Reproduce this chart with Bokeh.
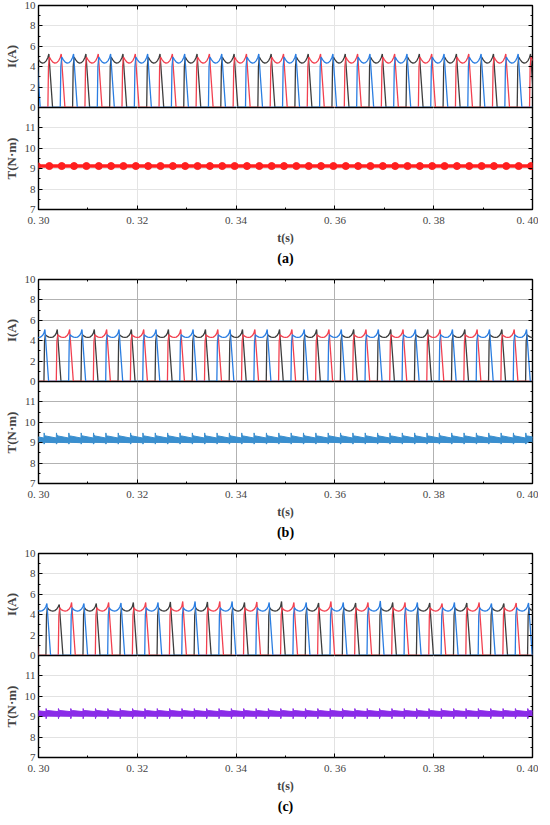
import numpy as np
from bokeh.plotting import figure
from bokeh.layouts import column
from bokeh.models import Range1d, LinearAxis, FixedTicker, Title
from bokeh.embed import file_html
from bokeh.resources import INLINE

# ---------------- data ----------------
X_TICKS = [0.30, 0.32, 0.34, 0.36, 0.38, 0.40]
X_TICK_LABELS = ["0. 30", "0. 32", "0. 34", "0. 36", "0. 38", "0. 40"]
X_MINOR = [0.31, 0.33, 0.35, 0.37, 0.39]
X_GRID = [0.32, 0.34, 0.36, 0.38]
I_TICKS = [0, 2, 4, 6, 8, 10]
I_MINOR = [1, 3, 5, 7, 9]
I_GRID = [2, 4, 6, 8]
T_TICKS = [7, 8, 9, 10, 11]
T_MINOR = [7.5, 8.5, 9.5, 10.5, 11.5]
T_GRID = [8, 9, 10, 11]
CAPTIONS = ["(a)", "(b)", "(c)"]

# one phase-current pulse: time after turn-on (ms) and current (A)
PULSE_MS = [0.0, 0.12, 0.3, 0.6, 1.0, 1.4, 1.8, 2.2, 2.5, 2.7, 3.45]
PULSE_A = [0.0, 4.0, 4.95, 4.7, 4.45, 4.35, 4.4, 4.6, 4.9, 5.25, 0.0]
PULSE_B = [0.0, 3.9, 4.6, 4.45, 4.35, 4.32, 4.35, 4.5, 4.75, 5.1, 0.0]
PULSE_C = [0.0, 3.9, 4.7, 4.5, 4.4, 4.36, 4.4, 4.55, 4.8, 5.2, 0.0]
PEAK_INDEX = 9

# turn-on instants (s) of each phase
ON_A_BLACK = [0.2994, 0.3069, 0.3144, 0.3219, 0.3294, 0.3369, 0.3444, 0.3519, 0.3594, 0.3669, 0.3744, 0.3819, 0.3894, 0.3969]
ON_A_RED = [0.3019, 0.3094, 0.3169, 0.3244, 0.3319, 0.3394, 0.3469, 0.3544, 0.3619, 0.3694, 0.3769, 0.3844, 0.3919, 0.3994]
ON_A_BLUE = [0.2969, 0.3044, 0.3119, 0.3194, 0.3269, 0.3344, 0.3419, 0.3494, 0.3569, 0.3644, 0.3719, 0.3794, 0.3869, 0.3944]

ON_B_BLACK = [0.3011, 0.3086, 0.3161, 0.3236, 0.3311, 0.3386, 0.3461, 0.3536, 0.3611, 0.3686, 0.3761, 0.3836, 0.3911, 0.3986]
ON_B_RED = [0.2961, 0.3036, 0.3111, 0.3186, 0.3261, 0.3336, 0.3411, 0.3486, 0.3561, 0.3636, 0.3711, 0.3786, 0.3861, 0.3936]
ON_B_BLUE = [0.2986, 0.3061, 0.3136, 0.3211, 0.3286, 0.3361, 0.3436, 0.3511, 0.3586, 0.3661, 0.3736, 0.3811, 0.3886, 0.3961]

ON_C_BLACK = [0.3015, 0.3090, 0.3165, 0.3240, 0.3315, 0.3390, 0.3465, 0.3540, 0.3615, 0.3690, 0.3765, 0.3840, 0.3915, 0.3990]
ON_C_RED = [0.2965, 0.3040, 0.3115, 0.3190, 0.3265, 0.3340, 0.3415, 0.3490, 0.3565, 0.3640, 0.3715, 0.3790, 0.3865, 0.3940]
ON_C_BLUE = [0.2990, 0.3065, 0.3140, 0.3215, 0.3290, 0.3365, 0.3440, 0.3515, 0.3590, 0.3665, 0.3740, 0.3815, 0.3890, 0.3965]

# pulse peaks in (c) vary a little
PEAK_C_BLACK = [5.0, 5.1, 5.2, 5.25, 5.25, 5.2, 5.3, 5.15, 5.15, 5.2, 5.15, 5.15, 5.1, 5.1]
PEAK_C_RED = [5.0, 5.2, 5.2, 5.2, 5.3, 5.3, 5.25, 5.2, 5.3, 5.2, 5.2, 5.1, 5.2, 5.15]
PEAK_C_BLUE = [5.1, 5.1, 5.15, 5.2, 5.3, 5.3, 5.2, 5.2, 5.2, 5.35, 5.2, 5.2, 5.1, 5.15]

# torque (a): level and marker delay after each commutation
TORQUE_A_LEVEL = 9.13
TORQUE_A_MARK_MS = 0.3
# torque ripple band over one commutation interval (ms after turn-on)
BAND_MS = [0.0, 0.04, 0.12, 0.35, 2.5]
BAND_B_HI = [9.26, 9.48, 9.37, 9.33, 9.23]
BAND_B_LO = [9.00, 8.93, 8.98, 9.02, 9.00]
BAND_C_HI = [9.27, 9.40, 9.33, 9.30, 9.25]
BAND_C_LO = [9.02, 8.90, 8.98, 9.03, 9.02]

COL_BLACK = "#3d3d3d"
COL_RED = "#f2404f"
COL_BLUE = "#2a7de1"
COL_TA = "#ff1f1f"
COL_TB = "#3a8fcf"
COL_TC = "#8a2be8"
GRID_COLS = ["#e4e4e4", "#b2b2b2", "#e2e2e2"]

FONT = "Liberation Serif"
FW, FH = 494, 102
ML, MR = 32, 6
OVER = 6  # overlap between the two stacked figures of a panel
BOTTOMS = [65, 65, 51]


def phase_curve(on_times, tmpl, peaks=None):
    xs, ys = [0.29], [0.0]
    for k, t0 in enumerate(on_times):
        vals = list(tmpl)
        if peaks is not None:
            vals[PEAK_INDEX] = peaks[k]
        for dt, v in zip(PULSE_MS, vals):
            xs.append(t0 + dt / 1000.0)
            ys.append(v)
    xs.append(0.41)
    ys.append(0.0)
    return xs, ys


def band(on_lists, ms, hi, lo):
    ons = sorted(sum(on_lists, []))
    xs, y1, y2 = [], [], []
    for t0 in ons:
        for dt, a, b in zip(ms, hi, lo):
            xs.append(t0 + dt / 1000.0)
            y1.append(a)
            y2.append(b)
    return xs, y1, y2


def tick_axis(ticks, minor):
    ax = LinearAxis(ticker=FixedTicker(ticks=ticks, minor_ticks=minor))
    ax.major_label_text_color = None
    ax.major_label_text_font_size = "1px"
    ax.major_label_standoff = 0
    ax.axis_line_color = None
    ax.major_tick_in, ax.major_tick_out = 4, 0
    ax.minor_tick_in, ax.minor_tick_out = 2, 0
    ax.major_tick_line_color = "black"
    ax.minor_tick_line_color = "black"
    return ax


def base_fig(yr, yticks, yminor, ygrid, ylabel, gcol, top_border, bottom_border, show_x, margin=None):
    kw = {}
    if margin is not None:
        kw["margin"] = margin
    p = figure(x_range=Range1d(0.30, 0.40), y_range=Range1d(*yr),
               frame_width=FW, frame_height=FH,
               output_backend="svg", toolbar_location=None,
               x_axis_location="below" if show_x else None,
               min_border_left=ML, min_border_right=MR,
               min_border_top=top_border, min_border_bottom=bottom_border, **kw)
    p.outline_line_color = "black"
    p.outline_line_width = 1.4
    p.background_fill_color = "white"
    p.border_fill_alpha = 0
    p.xgrid.ticker = FixedTicker(ticks=X_GRID)
    p.ygrid.ticker = FixedTicker(ticks=ygrid)
    for g in (p.xgrid, p.ygrid):
        g.grid_line_color = gcol
        g.grid_line_width = 1
    ya = p.yaxis[0]
    ya.ticker = FixedTicker(ticks=yticks, minor_ticks=yminor)
    ya.axis_label = ylabel
    ya.axis_label_text_font = FONT
    ya.axis_label_text_font_style = "bold"
    ya.axis_label_text_font_size = "13px"
    ya.axis_label_standoff = 3
    ya.major_label_text_font = FONT
    ya.major_label_text_font_size = "11px"
    ya.major_label_text_color = "#444444"
    ya.major_label_standoff = 3
    ya.axis_line_color = None
    ya.major_tick_in, ya.major_tick_out = 4, 0
    ya.minor_tick_in, ya.minor_tick_out = 2, 0
    ya.major_tick_line_color = "black"
    ya.minor_tick_line_color = "black"
    p.add_layout(tick_axis(yticks, yminor), "right")
    if show_x:
        xa = p.xaxis[0]
        xa.ticker = FixedTicker(ticks=X_TICKS, minor_ticks=X_MINOR)
        xa.major_label_overrides = dict(zip(X_TICKS, X_TICK_LABELS))
        xa.major_label_text_font = FONT
        xa.major_label_text_font_size = "11px"
        xa.major_label_text_color = "#444444"
        xa.major_label_standoff = 4
        xa.axis_label = "t(s)"
        xa.axis_label_text_font = FONT
        xa.axis_label_text_font_style = "bold"
        xa.axis_label_text_font_size = "12px"
        xa.axis_label_standoff = 2
        xa.axis_line_color = None
        xa.major_tick_in, xa.major_tick_out = 4, 0
        xa.minor_tick_in, xa.minor_tick_out = 2, 0
        xa.major_tick_line_color = "black"
        xa.minor_tick_line_color = "black"
    else:
        p.add_layout(tick_axis(X_TICKS, X_MINOR), "above")
    return p


panels = [
    (PULSE_A, (ON_A_BLACK, ON_A_RED, ON_A_BLUE), (None, None, None)),
    (PULSE_B, (ON_B_BLACK, ON_B_RED, ON_B_BLUE), (None, None, None)),
    (PULSE_C, (ON_C_BLACK, ON_C_RED, ON_C_BLUE), (PEAK_C_BLACK, PEAK_C_RED, PEAK_C_BLUE)),
]

figs = []
for i, (tmpl, ons, peaks) in enumerate(panels):
    pi = base_fig((0, 10), I_TICKS, I_MINOR, I_GRID, "I(A)", GRID_COLS[i], 5, OVER, False)
    for on, pk, col in zip(ons, peaks, (COL_BLACK, COL_RED, COL_BLUE)):
        xs, ys = phase_curve(on, tmpl, pk)
        pi.line(xs, ys, line_color=col, line_width=1.3)
    pt = base_fig((7, 12), T_TICKS, T_MINOR, T_GRID, "T(N·m)", GRID_COLS[i], 0, BOTTOMS[i], True,
                  margin=(-OVER, 0, 0, 0))
    if i == 0:
        pt.line([0.30, 0.40], [TORQUE_A_LEVEL, TORQUE_A_LEVEL], line_color=COL_TA, line_width=3.5)
        mx = [t + TORQUE_A_MARK_MS / 1000.0 for t in sorted(sum(list(ons), []))]
        pt.scatter(mx, [TORQUE_A_LEVEL] * len(mx), size=7, fill_color=COL_TA, line_color=COL_TA)
    else:
        hi, lo = (BAND_B_HI, BAND_B_LO) if i == 1 else (BAND_C_HI, BAND_C_LO)
        col = COL_TB if i == 1 else COL_TC
        bx, b1, b2 = band(list(ons), BAND_MS, hi, lo)
        pt.varea(x=bx, y1=b1, y2=b2, fill_color=col)
        pt.line(bx, b1, line_color=col, line_width=1)
        pt.line(bx, b2, line_color=col, line_width=1)
    cap = Title(text=CAPTIONS[i], align="center", text_font=FONT, text_font_size="14px",
                text_font_style="bold", text_color="black", standoff=2)
    pt.add_layout(cap, "below")
    figs.append(pi)
    figs.append(pt)

layout = column(*figs, spacing=0)
open("out.html", "w").write(file_html(layout, INLINE))
